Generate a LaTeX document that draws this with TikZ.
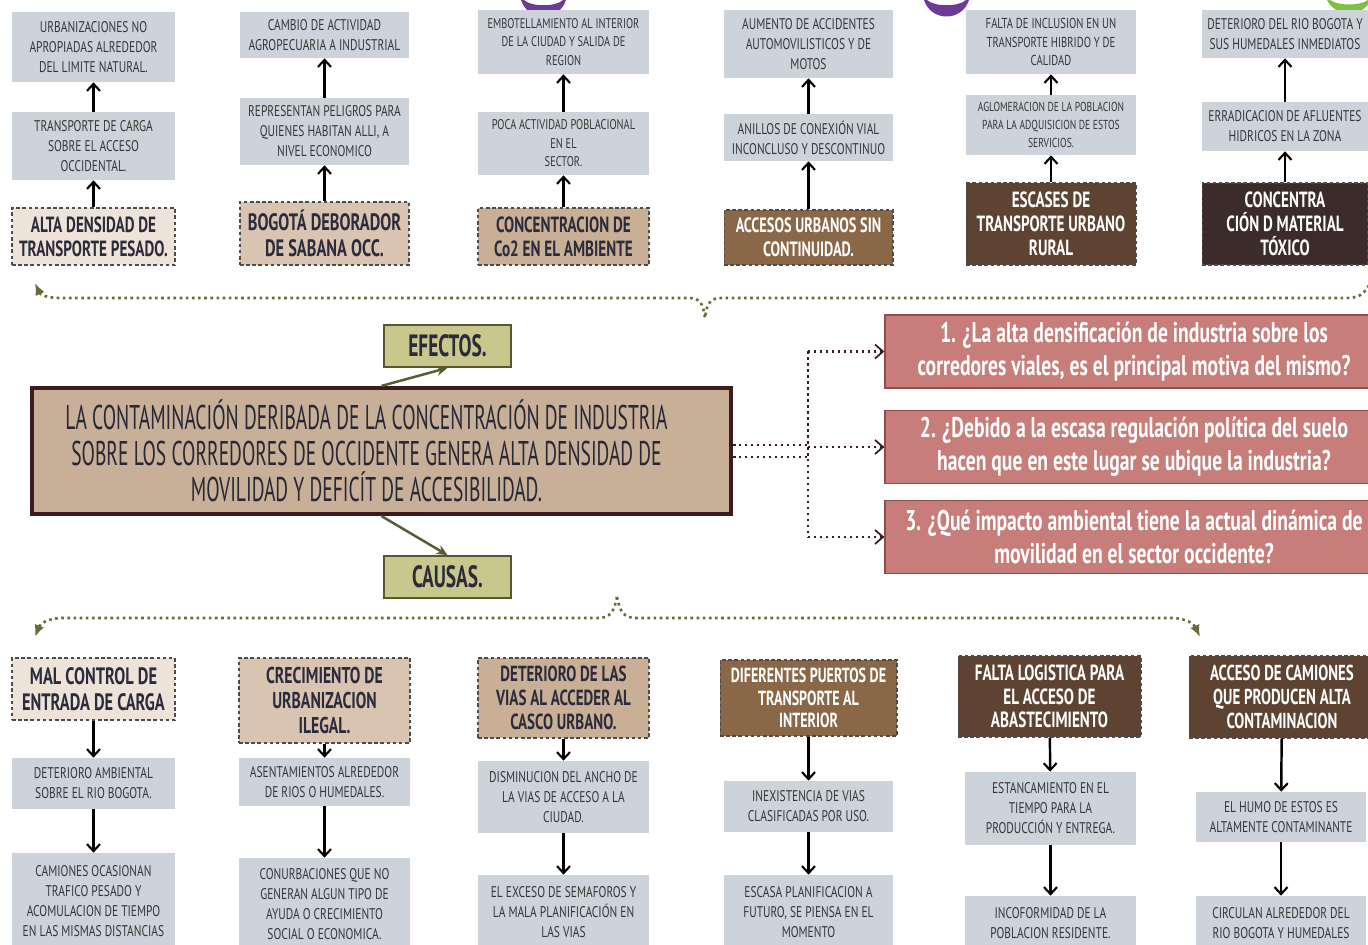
\documentclass[tikz,border=0pt]{standalone}
\usepackage{fontspec}
\setmainfont{PT Sans}
\newfontfamily\condA{PT Sans}[FakeStretch=0.74]
\newfontfamily\condB{PT Sans}[FakeStretch=0.63]
\newfontfamily\condC{PT Sans}[FakeStretch=0.57]
\newfontfamily\condD{PT Sans}[FakeStretch=0.69]
\usetikzlibrary{arrows.meta}

\definecolor{graybg}{HTML}{CDD3DA}
\definecolor{graytxt}{HTML}{363636}
\definecolor{beigeA}{HTML}{EEE3D8}
\definecolor{tanA}{HTML}{D9C4B1}
\definecolor{tanB}{HTML}{C9AF96}
\definecolor{brownA}{HTML}{8A6747}
\definecolor{brownB}{HTML}{5E4332}
\definecolor{brownC}{HTML}{3B2B2B}
\definecolor{mainfill}{HTML}{C8AF97}
\definecolor{mainedge}{HTML}{3E1B1D}
\definecolor{tagfill}{HTML}{C9C88C}
\definecolor{tagedge}{HTML}{585830}
\definecolor{headtxt}{HTML}{2B2B3B}
\definecolor{qfill}{HTML}{C77D79}
\definecolor{qedge}{HTML}{8E4E4A}
\definecolor{olive}{HTML}{6B6B3A}
\definecolor{purpleArc}{HTML}{6E3A9A}
\definecolor{greenArc}{HTML}{7DC242}

\begin{document}
\begin{tikzpicture}[x=0.02cm,y=-0.02cm,
    sz/.style 2 args={minimum width=#1cm,minimum height=#2cm},
    graybox/.style={fill=graybg,text=graytxt,align=center,inner sep=0pt,
      font=\condA\fontsize{8.8}{11.4}\selectfont},
    headbox/.style={draw=black!70,dash pattern=on 2pt off 1.5pt,line width=0.6pt,
      align=center,inner sep=0pt,text=headtxt,
      font=\condD\bfseries\fontsize{12.5}{13.8}\selectfont},
    darkhead/.style={headbox,text=white},
    tagbox/.style={fill=tagfill,draw=tagedge,line width=1pt,text=headtxt,
      font=\condB\bfseries\fontsize{17.5}{19}\selectfont,sz={2.54}{0.84}},
    qbox/.style={fill=qfill,draw=qedge,line width=0.8pt,text=white,align=center,
      font=\condD\bfseries\fontsize{16.2}{19}\selectfont,sz={9.96}{1.46}},
    uparr/.style={-{Straight Barb[length=1.4mm,width=2.6mm,line width=1.2pt]},line width=1.4pt,black},
    tagarr/.style={-{Stealth[length=2.2mm,width=2mm]},line width=1.4pt,olive!85!black},
    qarr/.style={-{Straight Barb[length=1.6mm,width=2.8mm,line width=1pt]},dotted,line width=1.4pt,mainedge},
    brace/.style={dotted,line width=1.5pt,olive}]
  \useasboundingbox (0,0) rectangle (1368,945);

  % small arcs cut by the top edge
  \fill[purpleArc] (521,0) .. controls (528,22) and (559,22) .. (566,0) -- (563,0) .. controls (556,7) and (531,7) .. (524,0) -- cycle;
  \fill[purpleArc] (924,0) .. controls (931,22) and (962,22) .. (969,0) -- (966,0) .. controls (959,7) and (934,7) .. (927,0) -- cycle;
  \fill[greenArc] (1327,0) .. controls (1336,18) and (1362,18) .. (1371,0) -- (1368,0) .. controls (1360,6) and (1338,6) .. (1330,0) -- cycle;

  % effects
  \node[graybox,sz={3.26}{1.4}] (t1a) at (93.5,47) {URBANIZACIONES NO\\APROPIADAS ALREDEDOR\\DEL LIMITE NATURAL.};
  \node[graybox,sz={3.26}{1.36}] (t1b) at (93.5,146) {TRANSPORTE DE CARGA\\SOBRE EL ACCESO\\OCCIDENTAL.};
  \node[headbox,fill=beigeA,sz={3.26}{1.14}] (t1c) at (93.5,236.5) {ALTA DENSIDAD DE\\TRANSPORTE PESADO.};
  \node[graybox,sz={3.38}{0.92}] (t2a) at (324.5,35) {CAMBIO DE ACTIVIDAD\\AGROPECUARIA A INDUSTRIAL};
  \node[graybox,sz={3.38}{1.34}] (t2b) at (324.5,131.5) {REPRESENTAN PELIGROS PARA\\QUIENES HABITAN ALLI, A\\NIVEL ECONOMICO};
  \node[headbox,fill=tanA,sz={3.38}{1.26},font=\condD\bfseries\fontsize{13.5}{15}\selectfont] (t2c) at (324.5,233.5) {BOGOTÁ DEBORADOR\\DE SABANA OCC.};
  \node[graybox,sz={3.42}{1.28},font=\condA\fontsize{8}{10.5}\selectfont] (t3a) at (563.5,42) {EMBOTELLAMIENTO AL INTERIOR\\DE LA CIUDAD Y SALIDA DE\\REGION};
  \node[graybox,sz={3.42}{1.26},font=\condA\fontsize{8}{10.5}\selectfont] (t3b) at (563.5,143.5) {POCA ACTIVIDAD POBLACIONAL\\EN EL\\SECTOR.};
  \node[headbox,fill=tanB,sz={3.42}{1.14}] (t3c) at (563.5,236.5) {CONCENTRACION DE\\Co2 EN EL AMBIENTE};
  \node[graybox,sz={3.38}{1.36}] (t4a) at (808.5,44) {AUMENTO DE ACCIDENTES\\AUTOMOVILISTICOS Y DE\\MOTOS};
  \node[graybox,sz={3.38}{0.94}] (t4b) at (808.5,137.5) {ANILLOS DE CONEXIÓN VIAL\\INCONCLUSO Y DESCONTINUO};
  \node[darkhead,fill=brownA,sz={3.38}{1.1},font=\condD\bfseries\fontsize{11.8}{13.5}\selectfont] (t4c) at (808.5,237.5) {ACCESOS URBANOS SIN\\CONTINUIDAD.};
  \node[graybox,sz={3.4}{1.28},font=\condA\fontsize{8.2}{10.5}\selectfont] (t5a) at (1051,42) {FALTA DE INCLUSION EN UN\\TRANSPORTE HIBRIDO Y DE\\CALIDAD};
  \node[graybox,sz={3.4}{1.2},font=\condA\fontsize{7.4}{10}\selectfont] (t5b) at (1051,125) {AGLOMERACION DE LA POBLACION\\PARA LA ADQUISICION DE ESTOS\\SERVICIOS.};
  \node[darkhead,fill=brownB,sz={3.4}{1.64}] (t5c) at (1051,224) {ESCASES DE\\TRANSPORTE URBANO\\RURAL};
  \node[graybox,sz={3.32}{0.96}] (t6a) at (1285,34) {DETERIORO DEL RIO BOGOTA Y\\SUS HUMEDALES INMEDIATOS};
  \node[graybox,sz={3.32}{0.98}] (t6b) at (1285,126.5) {ERRADICACION DE AFLUENTES\\HIDRICOS EN LA ZONA};
  \node[darkhead,fill=brownC,sz={3.32}{1.64}] (t6c) at (1285,224) {CONCENTRA\\CIÓN D MATERIAL\\TÓXICO};

  % centre
  \node[tagbox] (efectos) at (447.5,346) {EFECTOS.};
  \node[fill=mainfill,draw=mainedge,line width=2.4pt,sz={13.98}{2.52},align=center,
    text=headtxt!90!black,font=\condC\fontsize{19.5}{20.5}\selectfont] (central) at (381.5,451)
    {LA CONTAMINACIÓN DERIBADA DE LA CONCENTRACIÓN DE INDUSTRIA\rule{0.6cm}{0pt}\\SOBRE LOS CORREDORES DE OCCIDENTE GENERA ALTA DENSIDAD DE\rule{0.6cm}{0pt}\\MOVILIDAD Y DEFICÍT DE ACCESIBILIDAD.\rule{0.6cm}{0pt}};
  \node[tagbox] (causas) at (447.5,577) {CAUSAS.};
  \node[qbox] (q1) at (1134,351.5) {1. ¿La alta densificación de industria sobre los\\corredores viales, es el principal motiva del mismo?};
  \node[qbox] (q2) at (1134,447) {2. ¿Debido a la escasa regulación política del suelo\\hacen que en este lugar se ubique la industria?};
  \node[qbox] (q3) at (1134,537) {3. ¿Qué impacto ambiental tiene la actual dinámica de\\movilidad en el sector occidente?};
  \coordinate (split) at (808,447);

  % causes
  \node[headbox,fill=beigeA,sz={3.26}{1.24},font=\condD\bfseries\fontsize{13.5}{15}\selectfont] (b1a) at (93.5,689) {MAL CONTROL DE\\ENTRADA DE CARGA};
  \node[graybox,sz={3.26}{1.02}] (b1b) at (93.5,783.5) {DETERIORO AMBIENTAL\\SOBRE EL RIO BOGOTA.};
  \node[graybox,sz={3.26}{1.94}] (b1c) at (93.5,901.5) {CAMIONES OCASIONAN\\TRAFICO PESADO Y\\ACOMULACION DE TIEMPO\\EN LAS MISMAS DISTANCIAS};
  \node[headbox,fill=tanA,sz={3.42}{1.7},font=\condD\bfseries\fontsize{13}{14.5}\selectfont] (b2a) at (324.5,700.5) {CRECIMIENTO DE\\URBANIZACION\\ILEGAL.};
  \node[graybox,sz={3.42}{0.96}] (b2b) at (324.5,782) {ASENTAMIENTOS ALREDEDOR\\DE RIOS O HUMEDALES.};
  \node[graybox,sz={3.42}{1.84}] (b2c) at (324.5,904) {CONURBACIONES QUE NO\\GENERAN ALGUN TIPO DE\\AYUDA O CRECIMIENTO\\SOCIAL O ECONOMICA.};
  \node[headbox,fill=tanB,sz={3.42}{1.6},font=\condD\bfseries\fontsize{12.4}{13.5}\selectfont] (b3a) at (563.5,698) {DETERIORO DE LAS\\VIAS AL ACCEDER AL\\CASCO URBANO.};
  \node[graybox,sz={3.42}{1.44}] (b3b) at (563.5,797) {DISMINUCION DEL ANCHO DE\\LA VIAS DE ACCESO A LA\\CIUDAD.};
  \node[graybox,sz={3.42}{1.5}] (b3c) at (563.5,912.5) {EL EXCESO DE SEMAFOROS Y\\LA MALA PLANIFICACIÓN EN\\LAS VIAS};
  \node[darkhead,fill=brownA,sz={3.54}{1.52},font=\condD\bfseries\fontsize{11.6}{12.8}\selectfont] (b4a) at (808.5,698) {DIFERENTES PUERTOS DE\\TRANSPORTE AL\\INTERIOR};
  \node[graybox,sz={3.38}{1.02}] (b4b) at (808.5,806.5) {INEXISTENCIA DE VIAS\\CLASIFICADAS POR USO.};
  \node[graybox,sz={3.38}{1.5}] (b4c) at (808.5,912.5) {ESCASA PLANIFICACION A\\FUTURO, SE PIENSA EN EL\\MOMENTO};
  \node[darkhead,fill=brownB,sz={3.66}{1.62},font=\condD\bfseries\fontsize{12.5}{13.5}\selectfont] (b5a) at (1049.5,696.5) {FALTA LOGISTICA PARA\\EL ACCESO DE\\ABASTECIMIENTO};
  \node[graybox,sz={3.42}{1.46}] (b5b) at (1050.5,808.5) {ESTANCAMIENTO EN EL\\TIEMPO PARA LA\\PRODUCCIÓN Y ENTREGA.};
  \node[graybox,sz={3.42}{1.08}] (b5c) at (1050.5,923) {INCOFORMIDAD DE LA\\POBLACION RESIDENTE.};
  \node[darkhead,fill=brownB,sz={3.72}{1.64},font=\condD\bfseries\fontsize{12.3}{13.5}\selectfont] (b6a) at (1282,697) {ACCESO DE CAMIONES\\QUE PRODUCEN ALTA\\CONTAMINACION};
  \node[graybox,sz={3.4}{1.0}] (b6b) at (1281,817) {EL HUMO DE ESTOS ES\\ALTAMENTE CONTAMINANTE};
  \node[graybox,sz={3.4}{1.08}] (b6c) at (1281,923) {CIRCULAN ALREDEDOR DEL\\RIO BOGOTA Y HUMEDALES};

  % braces
  \draw[brace,-{Latex[length=2.4mm,width=2mm]}] (1372,280) .. controls (1364,296) and (1358,298) .. (1345,298)
    -- (722,298) .. controls (710,298) and (707,303) .. (705,318)
    .. controls (703,303) and (700,298) .. (688,298) -- (60,298)
    .. controls (46,298) and (40,294) .. (35,283);
  \draw[brace,-{Latex[length=2.4mm,width=2mm]}] (617,597) .. controls (614,612) and (610,618) .. (598,618)
    -- (62,618) .. controls (48,618) and (40,624) .. (35,637);
  \draw[brace,-{Latex[length=2.4mm,width=2mm]}] (617,597) .. controls (620,612) and (624,618) .. (636,618)
    -- (1172,618) .. controls (1186,618) and (1194,624) .. (1200,637);

  \begin{scope}[uparr]
    \draw (t1c) -- (t1b);
    \draw (t1b) -- (t1a);
    \draw (t2c) -- (t2b);
    \draw (t2b) -- (t2a);
    \draw (t3c) -- (t3b);
    \draw (t3b) -- (t3a);
    \draw (t4c) -- (t4b);
    \draw (t4b) -- (t4a);
    \draw (t5c) -- (t5b);
    \draw (t5b) -- (t5a);
    \draw (t6c) -- (t6b);
    \draw (t6b) -- (t6a);
    \draw (b1a) -- (b1b);
    \draw (b1b) -- (b1c);
    \draw (b2a) -- (b2b);
    \draw (b2b) -- (b2c);
    \draw (b3a) -- (b3b);
    \draw (b3b) -- (b3c);
    \draw (b4a) -- (b4b);
    \draw (b4b) -- (b4c);
    \draw (b5a) -- (b5b);
    \draw (b5b) -- (b5c);
    \draw (b6a) -- (b6b);
    \draw (b6b) -- (b6c);
  \end{scope}
  \draw[tagarr] (central.north) -- (efectos.south);
  \draw[tagarr] (central.south) -- (causas.north);
  \draw[dotted,line width=1.4pt,mainedge] ([yshift=-3.5pt]central.east) -- ([yshift=-3.5pt]central.east -| split);
  \draw[dotted,line width=1.4pt,mainedge] ([yshift=3.5pt]central.east) -- ([yshift=3.5pt]central.east -| split);
  \draw[dotted,line width=1.4pt,mainedge] (split |- q1.west) -- (split |- q3.west);
  \draw[qarr] (split |- q1.west) -- (q1.west);
  \draw[qarr] (split) -- (q2.west);
  \draw[qarr] (split |- q3.west) -- (q3.west);
\end{tikzpicture}
\end{document}
